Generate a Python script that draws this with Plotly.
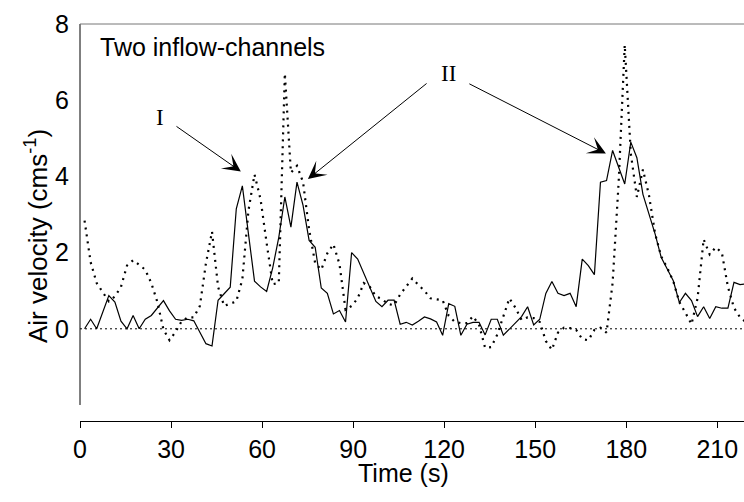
import numpy as np
import plotly.graph_objects as go

# sample times (s), 2-s sampling
time_s = np.arange(1.5, 220.0, 2.0)

# air velocity, channel traces (cm/s)
solid_vel = [0, 0.25, 0, 0.45, 0.87, 0.7, 0.2, 0, 0.35, 0,
             0.25, 0.35, 0.55, 0.74, 0.47, 0.25, 0.22, 0.25, 0.21, -0.1,
             -0.39, -0.45, 0.75, 0.92, 1.09, 3.15, 3.75, 2.5, 1.25, 1.1,
             0.98, 1.6, 2.4, 3.46, 2.67, 3.85, 3.24, 2.32, 2.14, 1.07,
             0.93, 0.39, 0.48, 0.18, 2.0, 1.83, 1.45, 1.09, 0.72, 0.58,
             0.75, 0.75, 0.12, 0.17, 0.1, 0.2, 0.31, 0.26, 0.18, -0.17,
             0.66, 0.59, -0.17, 0.12, 0.17, 0.17, -0.16, 0.25, 0.25, -0.17,
             0.0, 0.15, 0.32, 0.58, 0.1, 0.25, 0.93, 1.24, 0.93, 0.87,
             0.93, 0.58, 1.83, 1.66, 1.42, 3.85, 3.89, 4.68, 4.25, 3.8,
             4.9, 4.49, 3.53, 3.02, 2.49, 1.88, 1.57, 1.26, 0.69, 0.93,
             0.74, 0.32, 0.58, 0.27, 0.58, 0.54, 0.54, 1.22, 1.16, 1.18]

dotted_vel = [2.84, 1.75, 1.2, 0.95, 0.72, 0.85, 1.1, 1.66, 1.8, 1.68,
              1.55, 1.2, 0.7, -0.02, -0.3, -0.08, 0.2, 0.3, 0.3, 0.6,
              1.72, 2.55, 1.1, 0.6, 0.65, 0.72, 1.3, 3.1, 4.05, 3.4,
              2.25, 1.17, 1.2, 6.7, 4.1, 4.28, 3.85, 2.6, 1.72, 1.55,
              1.98, 2.22, 1.7, 0.5, 0.6, 0.8, 1.2, 1.1, 0.85, 0.78,
              0.65, 0.62, 0.9, 1.12, 1.32, 1.15, 1.0, 0.8, 0.78, 0.75,
              0.34, 0.18, 0.15, 0.15, 0.33, 0.1, -0.5, -0.48, -0.15, 0.35,
              0.8, 0.55, 0.23, 0.3, 0.28, 0.18, -0.32, -0.55, -0.1, 0.03,
              0.02, -0.03, -0.27, -0.3, -0.03, 0.03, -0.1, 1.2, 3.85, 7.45,
              4.6, 3.46, 4.18, 3.5, 2.5, 1.9, 1.6, 1.25, 0.7, 0.42,
              0.12, 0.8, 2.35, 1.95, 2.14, 2.0, 1.1, 0.55, 0.3, 0.17]

x_ticks = [0, 30, 60, 90, 120, 150, 180, 210]
y_ticks = [0, 2, 4, 6, 8]

SANS = "Liberation Sans, Arial, sans-serif"
SERIF = "Liberation Serif, Times New Roman, serif"

# plot area: left 80 px, top 24 px, bottom 421 px (x-axis line); y=-2 at 405 px
Y_BOTTOM = -2.42

fig = go.Figure()
fig.add_trace(go.Scatter(x=time_s, y=dotted_vel, mode="lines",
                         line=dict(color="black", width=2.2, dash="2px,5px"),
                         hoverinfo="skip"))
fig.add_trace(go.Scatter(x=time_s, y=solid_vel, mode="lines",
                         line=dict(color="black", width=1.2),
                         hoverinfo="skip"))

fig.update_layout(
    width=744, height=502,
    margin=dict(l=80, r=0, t=24, b=81),
    paper_bgcolor="white", plot_bgcolor="white",
    showlegend=False,
    font=dict(family=SANS, color="black", size=25),
    xaxis=dict(range=[0, 218.8], tickvals=x_ticks, ticks="outside", ticklen=6,
               tickwidth=1, tickcolor="black", showline=True, linecolor="black",
               linewidth=1, showgrid=False, zeroline=False,
               tickfont=dict(size=25, family=SANS)),
    yaxis=dict(range=[Y_BOTTOM, 8], tickvals=y_ticks, ticks="outside", ticklen=5,
               tickcolor="rgba(0,0,0,0)", showline=False, showgrid=False,
               zeroline=False, tickfont=dict(size=25, family=SANS)),
)

# y-axis line from -2 to 8 (paper coordinates, unclipped)
y_m2 = (-2 - Y_BOTTOM) / (8 - Y_BOTTOM)
fig.add_shape(type="line", xref="paper", yref="paper", x0=0, x1=0, y0=y_m2, y1=1,
              line=dict(color="black", width=1))
# zero reference line (dotted) and top frame line
fig.add_shape(type="line", xref="paper", yref="y", x0=0, x1=1, y0=0, y1=0,
              line=dict(color="black", width=1, dash="2px,3px"))
fig.add_shape(type="line", xref="paper", yref="paper", x0=0, x1=1, y0=1, y1=1,
              line=dict(color="#777777", width=1))

ann = []
ann.append(dict(text="Two inflow-channels", xref="paper", yref="paper",
                x=(98 - 80) / 664, y=(421 - 47) / 397, xanchor="left", yanchor="middle",
                showarrow=False, font=dict(size=25, family=SANS)))
ann.append(dict(text="Air velocity (cms<sup>-1</sup>)", xref="paper", yref="paper",
                x=(36 - 80) / 664, y=(421 - 236) / 397, textangle=-90,
                xanchor="center", yanchor="middle", showarrow=False,
                font=dict(size=26, family=SANS)))
ann.append(dict(text="Time (s)", xref="paper", yref="paper",
                x=(403 - 80) / 664, y=(421 - 473) / 397, xanchor="center",
                yanchor="middle", showarrow=False, font=dict(size=25, family=SANS)))
ann.append(dict(text="I", xref="x", yref="y", x=26.4, y=5.55, showarrow=False,
                font=dict(size=23, family=SERIF)))
ann.append(dict(text="II", xref="x", yref="y", x=121.3, y=6.7, showarrow=False,
                font=dict(size=23, family=SERIF)))
arrows = [((31.3, 5.34), (53.0, 4.13)),
          ((114.7, 6.47), (75.1, 3.93)),
          ((127.8, 6.45), (173.3, 4.6))]
for (tx, ty), (hx, hy) in arrows:
    ann.append(dict(text="", x=hx, y=hy, ax=tx, ay=ty, xref="x", yref="y",
                    axref="x", ayref="y", showarrow=True, arrowhead=3,
                    arrowsize=3.0, arrowwidth=1, arrowcolor="black"))
fig.update_layout(annotations=ann)

fig.write_html("out.html")
